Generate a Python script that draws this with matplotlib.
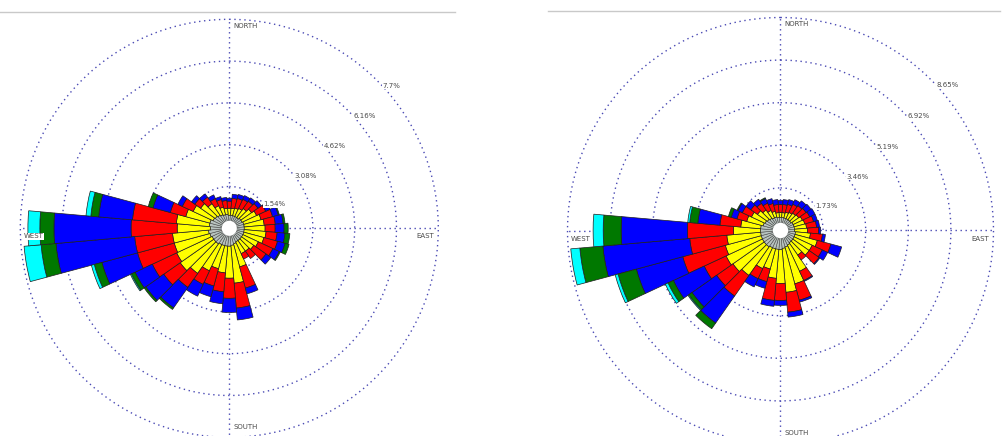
import numpy as np
import matplotlib
matplotlib.use("Agg")
import matplotlib.pyplot as plt
from matplotlib.lines import Line2D

# Wind directions (degrees, bar centres) and frequencies (%) per wind-speed class
directions = np.arange(0, 360, 10)

left_class1 = [0.48, 0.48, 0.48, 0.48, 0.48, 0.52, 0.52, 0.55, 0.55, 0.55,
               0.55, 0.55, 0.55, 0.55, 0.55, 0.55, 0.59, 0.63, 0.66, 0.66,
               0.66, 0.66, 0.70, 0.70, 0.70, 0.74, 0.77, 0.70, 0.74, 0.74,
               0.66, 0.63, 0.59, 0.55, 0.52, 0.52]
left_class2 = [0.26, 0.26, 0.29, 0.33, 0.41, 0.48, 0.59, 0.66, 0.74, 0.77,
               0.81, 0.77, 0.63, 0.55, 0.48, 0.48, 0.88, 1.40, 1.18, 0.99,
               0.88, 1.07, 1.33, 1.51, 1.44, 1.36, 1.33, 1.22, 1.22, 0.92,
               0.81, 0.66, 0.52, 0.37, 0.29, 0.22]
left_class3 = [0.26, 0.37, 0.37, 0.37, 0.33, 0.29, 0.37, 0.44, 0.41, 0.37,
               0.41, 0.52, 0.59, 0.55, 0.33, 0.22, 0.81, 0.92, 0.74, 0.70,
               0.66, 0.55, 0.63, 0.74, 0.99, 1.40, 1.40, 1.70, 1.62, 0.59,
               0.44, 0.26, 0.29, 0.29, 0.29, 0.29]
left_class4 = [0.11, 0.15, 0.15, 0.15, 0.15, 0.15, 0.18, 0.22, 0.29, 0.33,
               0.29, 0.29, 0.26, 0.22, 0.00, 0.00, 0.22, 0.44, 0.52, 0.44,
               0.41, 0.48, 0.92, 0.81, 0.70, 1.36, 2.91, 2.84, 1.25, 0.66,
               0.18, 0.15, 0.15, 0.15, 0.11, 0.11]
left_class5 = [0, 0, 0, 0, 0, 0, 0, 0.04, 0.07, 0.15,
               0.18, 0.15, 0.04, 0, 0, 0, 0, 0, 0, 0,
               0, 0, 0.07, 0.07, 0.15, 0.29, 0.55, 0.52, 0.29, 0.18,
               0, 0, 0, 0, 0, 0]
left_class6 = [0, 0, 0, 0, 0, 0, 0, 0, 0, 0,
               0, 0, 0, 0, 0, 0, 0, 0, 0, 0,
               0, 0, 0, 0, 0.04, 0.11, 0.63, 0.44, 0.18, 0,
               0, 0, 0, 0, 0, 0]

right_class1 = [0.53, 0.53, 0.53, 0.53, 0.53, 0.53, 0.57, 0.57, 0.57, 0.57,
                0.61, 0.61, 0.61, 0.61, 0.61, 0.65, 0.69, 0.73, 0.77, 0.77,
                0.77, 0.77, 0.81, 0.81, 0.81, 0.81, 0.81, 0.81, 0.81, 0.73,
                0.69, 0.65, 0.61, 0.57, 0.57, 0.53]
right_class2 = [0.20, 0.20, 0.24, 0.28, 0.33, 0.37, 0.41, 0.45, 0.49, 0.53,
                0.61, 0.94, 0.81, 0.81, 0.61, 1.18, 1.55, 1.79, 1.38, 1.18,
                0.85, 0.94, 1.42, 1.55, 1.63, 1.51, 1.38, 1.10, 0.81, 0.69,
                0.61, 0.49, 0.41, 0.33, 0.24, 0.20]
right_class3 = [0.33, 0.33, 0.33, 0.37, 0.37, 0.37, 0.33, 0.37, 0.41, 0.45,
                0.49, 0.57, 0.45, 0.49, 0.24, 0.41, 0.69, 0.81, 0.69, 0.90,
                0.53, 0.45, 1.02, 0.81, 0.98, 1.79, 1.51, 1.87, 0.85, 0.41,
                0.41, 0.33, 0.33, 0.33, 0.33, 0.33]
right_class4 = [0.16, 0.20, 0.20, 0.20, 0.24, 0.24, 0.24, 0.16, 0.12, 0.08,
                0.12, 0.45, 0.24, 0.04, 0.00, 0.04, 0.08, 0.20, 0.20, 0.24,
                0.28, 0.37, 1.34, 1.22, 1.38, 1.95, 3.54, 2.69, 0.90, 0.24,
                0.20, 0.24, 0.20, 0.20, 0.20, 0.20]
right_class5 = [0, 0, 0, 0, 0, 0, 0, 0, 0, 0,
                0, 0, 0, 0, 0, 0, 0, 0, 0, 0,
                0, 0, 0.28, 0.16, 0.24, 0.77, 0.94, 0.73, 0.33, 0.12,
                0.04, 0, 0, 0.04, 0, 0]
right_class6 = [0, 0, 0, 0, 0, 0, 0, 0, 0, 0,
                0, 0, 0, 0, 0, 0, 0, 0, 0, 0,
                0, 0, 0, 0.04, 0.12, 0.12, 0.37, 0.41, 0.08, 0,
                0, 0, 0, 0, 0, 0]

left_rings = [1.54, 3.08, 4.62, 6.16, 7.7]
left_ring_labels = ["1.54%", "3.08%", "4.62%", "6.16%", "7.7%"]
right_rings = [1.73, 3.46, 5.19, 6.92, 8.65]
right_ring_labels = ["1.73%", "3.46%", "5.19%", "6.92%", "8.65%"]
compass_labels = ["NORTH", "EAST", "SOUTH", "WEST"]

class_colors = ["#b8c3bf", "#ffff00", "#ff0000", "#0000ff", "#007800", "#00ffff"]
grid_color = "#4a4ab4"
text_color = "#4a4a4a"

W, H = 1003, 436
fig = plt.figure(figsize=(W / 100, H / 100), dpi=100)
fig.patch.set_facecolor("white")

PAD = 1.02          # radial headroom so the outer ring is not clipped
PT = 0.72           # points per pixel at 100 dpi


def add_polar(cx, cy, radius):
    r = radius * PAD
    return fig.add_axes([(cx - r) / W, (H - cy - r) / H, 2 * r / W, 2 * r / H],
                        projection="polar")


def draw_rose(ax, classes, rings, ring_labels):
    rmax = rings[-1]
    ax.set_theta_zero_location("N")
    ax.set_theta_direction(-1)
    ax.set_ylim(0, rmax * PAD)
    ax.set_xticks([])
    ax.set_yticks([])
    ax.grid(False)
    ax.spines["polar"].set_visible(False)
    ax.patch.set_alpha(0)

    # dotted range rings and compass axes
    dots = dict(color=grid_color, lw=1.0, ls=(0, (1, 2.6)), zorder=1)
    t = np.linspace(0, 2 * np.pi, 721)
    for r in rings:
        ax.plot(t, np.full_like(t, r), **dots)
    for a in (0, 90, 180, 270):
        ax.plot([np.deg2rad(a)] * 2, [0, rmax], **dots)

    # stacked speed-class bars
    theta = np.deg2rad(directions)
    width = np.deg2rad(10)
    bottom = np.zeros(len(directions))
    for i, (vals, col) in enumerate(zip(classes, class_colors)):
        v = np.asarray(vals, dtype=float)
        m = v > 0
        ax.bar(theta[m], v[m], width=width, bottom=bottom[m], color=col,
               edgecolor="#4a4a4a" if i == 0 else "#1e1e1e",
               linewidth=0.4 if i == 0 else 0.5, zorder=2)
        bottom += v

    # white calm circle in the middle
    ax.bar(0, rmax * 0.036, width=2 * np.pi, bottom=0, color="white",
           edgecolor="none", zorder=3)

    # ring value labels
    label_angles = [55, 51, 49, 48, 47]
    for r, lab, ang in zip(rings, ring_labels, label_angles):
        ax.text(np.deg2rad(ang), r, lab, ha="left", va="center", fontsize=5,
                color=text_color, zorder=6,
                bbox=dict(facecolor="white", edgecolor="none", pad=0.4))

    # compass labels
    kw = dict(textcoords="offset points", fontsize=5, color=text_color,
              va="center", zorder=6, annotation_clip=False)
    ax.annotate(compass_labels[0], xy=(0, rmax), xytext=(4 * PT, -6.5 * PT),
                ha="left", **kw)
    ax.annotate(compass_labels[1], xy=(np.pi / 2, rmax),
                xytext=(-4.5 * PT, -8 * PT), ha="right", **kw)
    ax.annotate(compass_labels[2], xy=(np.pi, rmax), xytext=(4 * PT, 10.5 * PT),
                ha="left", **kw)
    ax.annotate(compass_labels[3], xy=(3 * np.pi / 2, rmax),
                xytext=(3 * PT, -8 * PT), ha="left",
                bbox=dict(facecolor="white", edgecolor="none", pad=0.4), **kw)


ax_left = add_polar(229.3, 228.3, 209)
draw_rose(ax_left,
          [left_class1, left_class2, left_class3, left_class4, left_class5, left_class6],
          left_rings, left_ring_labels)

ax_right = add_polar(780.5, 230.5, 213)
draw_rose(ax_right,
          [right_class1, right_class2, right_class3, right_class4, right_class5, right_class6],
          right_rings, right_ring_labels)

# thin panel borders along the top
fig.add_artist(Line2D([0, 455 / W], [1 - 12 / H] * 2, color="#c9c9c9", lw=1,
                      transform=fig.transFigure))
fig.add_artist(Line2D([548 / W, 1000 / W], [1 - 11.5 / H] * 2, color="#c9c9c9",
                      lw=1, transform=fig.transFigure))

fig.savefig("out.png", dpi=100, facecolor="white")
